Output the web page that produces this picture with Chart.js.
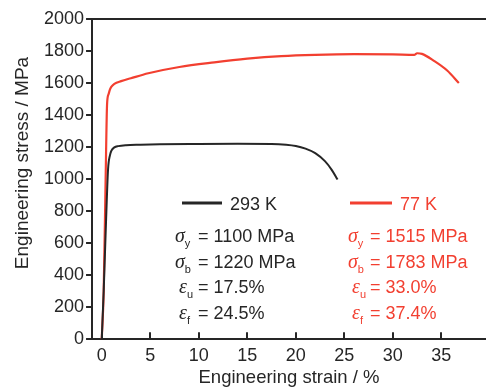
<!DOCTYPE html>
<html>
<head>
<meta charset="utf-8">
<script src="https://cdn.jsdelivr.net/npm/chart.js@4.4.1/dist/chart.umd.min.js"></script>
<style>
  html, body { margin: 0; padding: 0; background: #fff; }
  #wrap { width: 486px; height: 389px; position: relative; }
</style>
</head>
<body>
<div id="wrap"><canvas id="stressChart"></canvas></div>
<script>
// 293 K curve
const strain293 = [0, 0.2, 0.45, 0.65, 0.85, 1.0, 1.3, 1.7, 2.5, 4, 6, 10, 14, 17.5, 19, 20, 21, 22, 23, 23.7, 24.3];
const stress293 = [0, 300, 750, 1060, 1150, 1178, 1198, 1206, 1212, 1215, 1218, 1220, 1221, 1220, 1215, 1207, 1190, 1162, 1112, 1058, 997];
// 77 K curve
const strain77 = [0, 0.2, 0.4, 0.55, 0.7, 0.85, 1.0, 1.3, 2, 3, 4.8, 8, 11.6, 15, 18.5, 22, 26, 30, 32.2, 32.5, 33, 34.2, 35.6, 36.8];
const stress77 = [0, 300, 1000, 1470, 1530, 1560, 1577, 1595, 1612, 1630, 1661, 1700, 1729, 1752, 1768, 1776, 1780, 1779, 1776, 1786, 1782, 1740, 1678, 1600];

const yTicks = [0, 200, 400, 600, 800, 1000, 1200, 1400, 1600, 1800, 2000];
const xTicks = [0, 5, 10, 15, 20, 25, 30, 35];

const props293 = [['σ', 'y', '= 1100 MPa'], ['σ', 'b', '= 1220 MPa'], ['ε', 'u', '= 17.5%'], ['ε', 'f', '= 24.5%']];
const props77 = [['σ', 'y', '= 1515 MPa'], ['σ', 'b', '= 1783 MPa'], ['ε', 'u', '= 33.0%'], ['ε', 'f', '= 37.4%']];

const BLACK = '#262626';
const RED = '#f23f30';
const SANS = "'Liberation Sans', Arial, sans-serif";

function pts(xs, ys) {
    return xs.map((x, i) => ({ x: x, y: ys[i] }));
}

// box top line, inward x ticks, y title, legend and property text
const extras = {
    id: 'extras',
    afterDraw(chart) {
        const ctx = chart.ctx;
        const area = chart.chartArea;
        const xs = chart.scales.x;
        ctx.save();
        ctx.strokeStyle = BLACK;
        ctx.lineWidth = 2;
        ctx.beginPath();
        ctx.moveTo(area.left - 1, area.top);
        ctx.lineTo(area.right, area.top);
        ctx.stroke();
        xTicks.forEach(v => {
            const px = Math.round(xs.getPixelForValue(v));
            ctx.beginPath();
            ctx.moveTo(px, area.bottom);
            ctx.lineTo(px, area.bottom - 7);
            ctx.stroke();
        });

        // y axis title (sits a little above the plot centre in the original)
        ctx.save();
        ctx.translate(23, 163);
        ctx.rotate(-Math.PI / 2);
        ctx.fillStyle = BLACK;
        ctx.font = '19px ' + SANS;
        ctx.textAlign = 'center';
        ctx.textBaseline = 'middle';
        ctx.fillText('Engineering stress / MPa', 0, 0);
        ctx.restore();

        // legend
        ctx.lineWidth = 3;
        ctx.strokeStyle = BLACK;
        ctx.beginPath(); ctx.moveTo(182, 203); ctx.lineTo(222, 203); ctx.stroke();
        ctx.strokeStyle = RED;
        ctx.beginPath(); ctx.moveTo(350, 203); ctx.lineTo(392, 203); ctx.stroke();
        ctx.font = '18px ' + SANS;
        ctx.textBaseline = 'alphabetic';
        ctx.fillStyle = BLACK;
        ctx.fillText('293 K', 230, 210);
        ctx.fillStyle = RED;
        ctx.fillText('77 K', 400, 210);

        function drawRows(rows, color, symX, eqX) {
            ctx.fillStyle = color;
            rows.forEach((r, i) => {
                const base = 242 + i * 25.5;
                const sx = r[0] === 'ε' ? symX + 4 : symX;
                ctx.font = 'italic 20px "Liberation Serif", serif';
                ctx.fillText(r[0], sx, base);
                const w = ctx.measureText(r[0]).width;
                ctx.font = '11px ' + SANS;
                ctx.fillText(r[1], sx + w, base + 5);
                ctx.font = '18px ' + SANS;
                ctx.fillText(r[2], eqX, base);
            });
        }
        drawRows(props293, BLACK, 175, 198);
        drawRows(props77, RED, 348, 370);
        ctx.restore();
    }
};

const ctx = document.getElementById('stressChart').getContext('2d');
new Chart(ctx, {
    type: 'line',
    data: {
        datasets: [
            {
                label: '293 K',
                data: pts(strain293, stress293),
                borderColor: BLACK,
                borderWidth: 2,
                pointRadius: 0,
                cubicInterpolationMode: 'monotone',
            },
            {
                label: '77 K',
                data: pts(strain77, stress77),
                borderColor: RED,
                borderWidth: 2.2,
                pointRadius: 0,
                cubicInterpolationMode: 'monotone',
            },
        ],
    },
    options: {
        responsive: true,
        maintainAspectRatio: false,
        animation: false,
        layout: { padding: { top: 19, right: 0, left: 42, bottom: 0 } },
        plugins: {
            legend: { display: false },
            tooltip: { enabled: false },
        },
        scales: {
            x: {
                type: 'linear',
                min: -1,
                max: 39.6,
                afterBuildTicks: (axis) => { axis.ticks = xTicks.map(v => ({ value: v })); },
                grid: { display: false, drawTicks: false },
                border: { display: true, color: BLACK, width: 2 },
                ticks: { color: BLACK, padding: 6, maxRotation: 0, font: { family: SANS, size: 18 }, callback: v => String(v) },
                title: {
                    display: true,
                    text: 'Engineering strain / %',
                    color: BLACK,
                    padding: { top: -6, bottom: 0 },
                    font: { family: SANS, size: 18.5 },
                },
            },
            y: {
                min: 0,
                max: 2000,
                afterBuildTicks: (axis) => { axis.ticks = yTicks.map(v => ({ value: v })); },
                grid: { drawOnChartArea: false, tickLength: 6, color: BLACK, lineWidth: 2 },
                border: { display: true, color: BLACK, width: 2 },
                ticks: { color: BLACK, padding: 2, font: { family: SANS, size: 18 }, callback: v => String(v) },
            },
        },
    },
    plugins: [extras],
});
</script>
</body>
</html>
